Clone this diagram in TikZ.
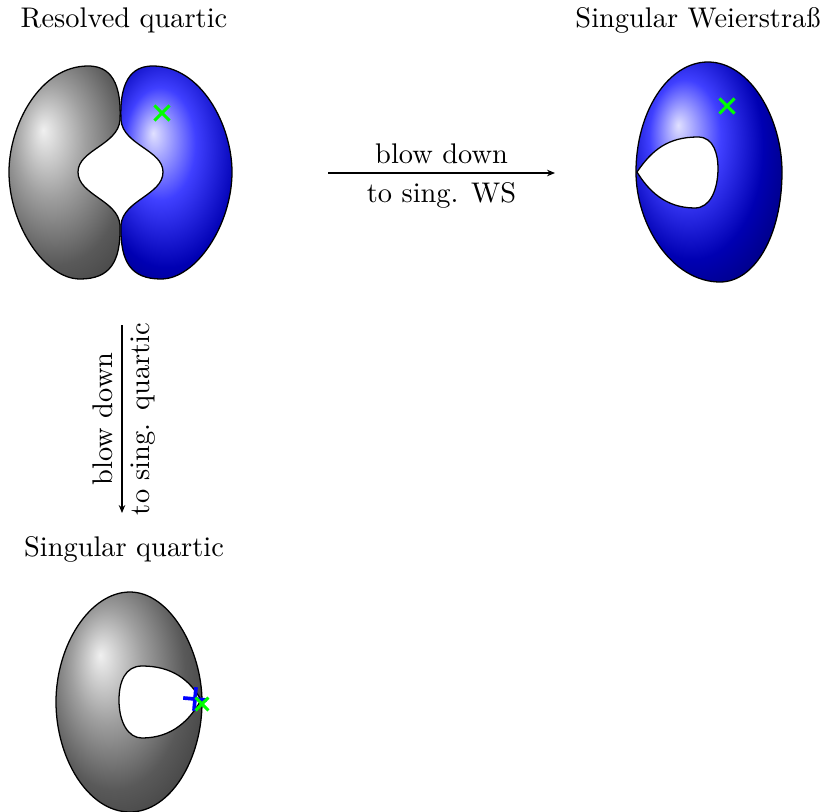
\documentclass[tikz,border=0pt]{standalone}
\usepackage{tikz}
\usetikzlibrary{arrows.meta,shapes.misc}
\makeatletter
\pgfdeclareradialshading[tikz@ball]{softball}{\pgfqpoint{-5bp}{5bp}}{%
  color(0bp)=(tikz@ball!12!white); color(4.7bp)=(tikz@ball!75!white);
  color(9.4bp)=(tikz@ball!70!black); color(13bp)=(tikz@ball!50!black);
  color(26bp)=(black)}
\makeatother
\tikzset{
  surflabel/.style={font=\normalsize,inner sep=2pt},
  surfline/.style={draw=black,line width=0.45pt},
  surfgray/.style={surfline,path picture={\shade[ball color=gray,shading=softball] (#1) ellipse [x radius=190,y radius=300];}},
  surfblue/.style={surfline,path picture={\shade[ball color=blue,shading=softball] (#1) ellipse [x radius=190,y radius=300];}},
  holeline/.style={draw=black,line width=0.45pt,fill=white},
  maparrow/.style={-{Stealth[length=2.8pt,width=2.3pt]},line width=0.45pt},
  ptmark/.style={cross out,draw=#1,line width=1.1pt,minimum size=4.2pt,inner sep=0pt},
  maplabel/.style={font=\normalsize,inner sep=3pt}
}

\begin{document}
\begin{tikzpicture}[x=0.352pt,y=-0.352pt]
\useasboundingbox (0,0) rectangle (825,812);

\node[surflabel] (rqlabel) at (124,20) {Resolved quartic};
\node[surflabel] (wslabel) at (698,20) {Singular Weierstraß};
\node[surflabel] (sqlabel) at (124,549) {Singular quartic};

\draw[surfgray={81,190}] (120,120) .. controls (122,75) and (105,66) .. (88,66)
  .. controls (40,66) and (9,125) .. (9,172)
  .. controls (9,225) and (45,279) .. (80,279)
  .. controls (110,279) and (121,262) .. (120,225)
  .. controls (118,200) and (78,195) .. (78,172)
  .. controls (78,150) and (118,145) .. (120,120) -- cycle;
\draw[surfblue={191,193}] (121,120) .. controls (119,75) and (136,66) .. (153,66)
  .. controls (201,66) and (232,125) .. (232,172)
  .. controls (232,225) and (196,279) .. (161,279)
  .. controls (131,279) and (120,262) .. (121,225)
  .. controls (123,200) and (163,195) .. (163,172)
  .. controls (163,150) and (123,145) .. (121,120) -- cycle;
\node[ptmark=green] (rqpt) at (162,113) {};

\draw[surfblue={716,185}] (708,62) .. controls (750,62) and (782,118) .. (782,172)
  .. controls (782,235) and (755,282) .. (720,282)
  .. controls (672,282) and (636,225) .. (636,172)
  .. controls (636,112) and (668,62) .. (708,62) -- cycle;
\draw[holeline] (637,172) .. controls (652,150) and (668,137) .. (698,137)
  .. controls (714,137) and (718,155) .. (718,168)
  .. controls (718,190) and (710,208) .. (695,208)
  .. controls (665,208) and (648,190) .. (637,172) -- cycle;
\node[ptmark=green] (wspt) at (727,106) {};

\draw[surfgray={138,715}] (130,592) .. controls (170,592) and (202,650) .. (202,702)
  .. controls (202,760) and (170,812) .. (130,812)
  .. controls (88,812) and (56,758) .. (56,702)
  .. controls (56,645) and (90,592) .. (130,592) -- cycle;
\draw[holeline] (201,700) .. controls (190,680) and (172,666) .. (142,666)
  .. controls (125,666) and (119,682) .. (119,700)
  .. controls (119,722) and (128,738) .. (142,738)
  .. controls (172,738) and (190,720) .. (201,700) -- cycle;
\node[ptmark=blue,rotate=40,minimum size=4.6pt,line width=1.3pt] (sqptb) at (195,699) {};
\node[ptmark=green,minimum size=3.4pt] (sqptg) at (202,704) {};

\coordinate (hstart) at (328,173);
\coordinate (hend) at (555,173);
\draw[maparrow] (hstart) -- (hend)
  node[midway,above,maplabel] (hup) {blow down}
  node[midway,below,maplabel] (hdown) {to sing. WS};

\coordinate (vstart) at (122,325);
\coordinate (vend) at (122,513);
\draw[maparrow] (vstart) -- (vend)
  node[midway,rotate=90,anchor=south,maplabel] (vleft) {blow down}
  node[midway,rotate=90,anchor=north,maplabel] (vright) {to sing. quartic};
\end{tikzpicture}
\end{document}
